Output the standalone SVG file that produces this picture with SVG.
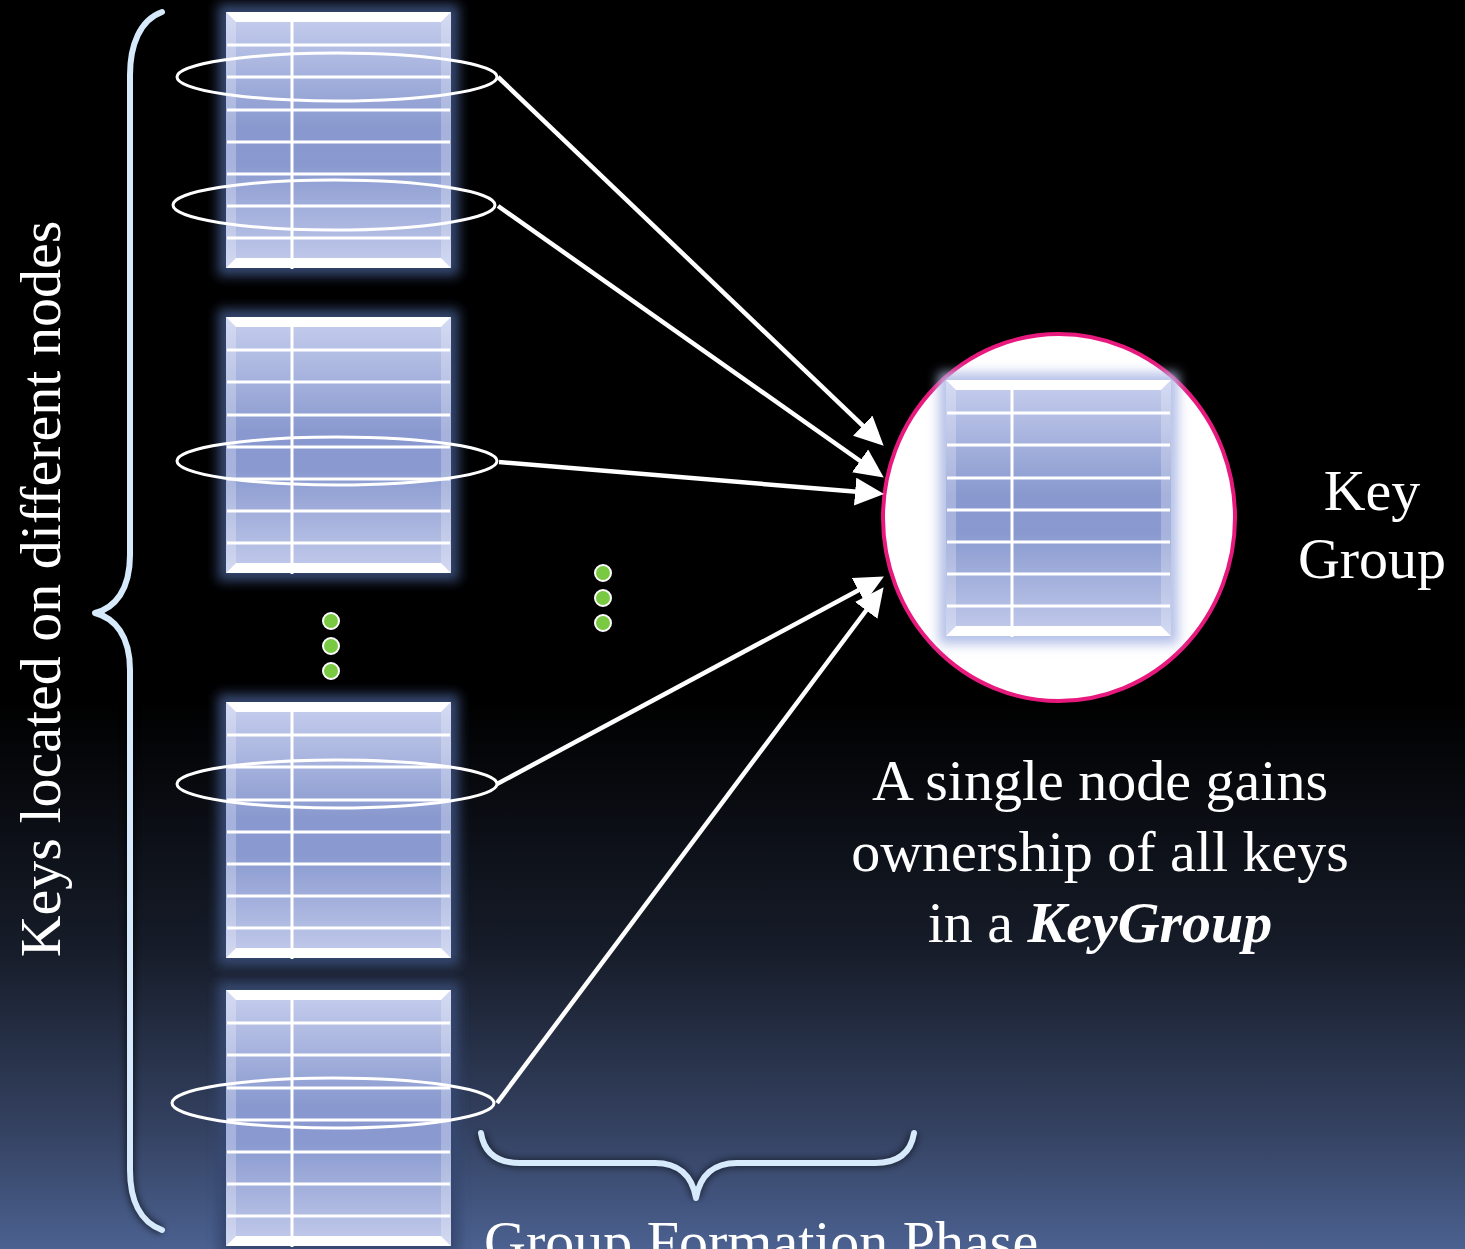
<svg xmlns="http://www.w3.org/2000/svg" xmlns:xlink="http://www.w3.org/1999/xlink" width="1465" height="1249" viewBox="0 0 1465 1249">
<defs>
<linearGradient id="bg" x1="0" y1="0" x2="0" y2="1249" gradientUnits="userSpaceOnUse">
<stop offset="0" stop-color="#000000"/>
<stop offset="0.56" stop-color="#000000"/>
<stop offset="0.76" stop-color="#161c29"/>
<stop offset="0.9" stop-color="#33405f"/>
<stop offset="1" stop-color="#4b6190"/>
</linearGradient>
<linearGradient id="tfill" x1="0" y1="0" x2="0" y2="1">
<stop offset="0" stop-color="#c7cfee"/>
<stop offset="0.45" stop-color="#8999cf"/>
<stop offset="0.6" stop-color="#8a9ad0"/>
<stop offset="1" stop-color="#c4ccec"/>
</linearGradient>
<filter id="glow" x="-20%" y="-20%" width="140%" height="140%">
<feGaussianBlur stdDeviation="6"/>
</filter>
<filter id="shadow" x="-10%" y="-10%" width="120%" height="120%">
<feGaussianBlur stdDeviation="3"/>
</filter>
<marker id="ah" markerUnits="userSpaceOnUse" markerWidth="32" markerHeight="30" refX="8" refY="14" orient="auto">
<path d="M0,0 L29,14 L0,28 z" fill="#ffffff"/>
</marker>
<g id="table">
<rect x="0" y="0" width="225" height="256" fill="url(#tfill)"/>
<polygon points="0,0 10,10 10,246 0,256" fill="#ffffff" opacity="0.25"/>
<polygon points="225,0 215,10 215,246 225,256" fill="#ffffff" opacity="0.25"/>
<polygon points="0,0 225,0 215,10 10,10" fill="#ffffff"/>
<polygon points="0,256 225,256 215,246 10,246" fill="#ffffff"/>
<g stroke="#ffffff" stroke-width="3">
<line x1="1" y1="33" x2="224" y2="33"/>
<line x1="1" y1="65" x2="224" y2="65"/>
<line x1="1" y1="98" x2="224" y2="98"/>
<line x1="1" y1="130" x2="224" y2="130"/>
<line x1="1" y1="162" x2="224" y2="162"/>
<line x1="1" y1="194" x2="224" y2="194"/>
<line x1="1" y1="226" x2="224" y2="226"/>
<line x1="66" y1="9" x2="66" y2="257"/>
</g>
</g>
</defs>
<style>
.txt{font-family:"Liberation Serif","Times New Roman",serif;font-size:58px;fill:#ffffff}
.ell{fill:none;stroke:#ffffff;stroke-width:3}
.conn{stroke:#ffffff;stroke-width:4.5;fill:none;marker-end:url(#ah)}
.brace{fill:none;stroke:#d6eafc;stroke-width:6;stroke-linecap:round;stroke-linejoin:round}
.dot{fill:#7ac943;stroke:#ffffff;stroke-width:2}
.glow{fill:#34466f;filter:url(#glow)}
</style>
<rect x="0" y="0" width="1465" height="1249" fill="url(#bg)"/>

<g id="brace-left">
<path d="M162,12 C140,20 130,45 130,75 L130,555 C130,590 115,608 95,613 C115,618 130,636 130,670 L130,1170 C130,1200 140,1222 162,1230" fill="none" stroke="#000000" stroke-width="10" opacity="0.5" filter="url(#shadow)"/>
<path class="brace" d="M162,12 C140,20 130,45 130,75 L130,555 C130,590 115,608 95,613 C115,618 130,636 130,670 L130,1170 C130,1200 140,1222 162,1230"/>
</g>

<text class="txt" transform="translate(60,589) rotate(-90)" text-anchor="middle">Keys located on different nodes</text>

<g id="table1">
<rect class="glow" x="218" y="4" width="241" height="272"/>
<use xlink:href="#table" x="226" y="12"/>
<ellipse class="ell" cx="337" cy="77" rx="160" ry="24"/>
<ellipse class="ell" cx="334" cy="205" rx="161" ry="25"/>
</g>
<g id="table2">
<rect class="glow" x="218" y="309" width="241" height="272"/>
<use xlink:href="#table" x="226" y="317"/>
<ellipse class="ell" cx="337" cy="461" rx="160" ry="24"/>
</g>
<g id="table3">
<rect class="glow" x="218" y="694" width="241" height="272"/>
<use xlink:href="#table" x="226" y="702"/>
<ellipse class="ell" cx="337" cy="784" rx="160" ry="24"/>
</g>
<g id="table4">
<rect class="glow" x="218" y="982" width="241" height="272"/>
<use xlink:href="#table" x="226" y="990"/>
<ellipse class="ell" cx="333" cy="1103" rx="161" ry="25"/>
</g>

<g id="dots-left">
<circle class="dot" cx="331" cy="621" r="8"/>
<circle class="dot" cx="331" cy="646" r="8"/>
<circle class="dot" cx="331" cy="671" r="8"/>
</g>
<g id="dots-right">
<circle class="dot" cx="603" cy="573" r="8"/>
<circle class="dot" cx="603" cy="598" r="8"/>
<circle class="dot" cx="603" cy="623" r="8"/>
</g>

<g id="keygroup">
<ellipse cx="1059" cy="517.5" rx="176" ry="183.5" fill="#ffffff" stroke="#e8197d" stroke-width="4"/>
<rect x="939" y="373" width="239" height="271" fill="#b3bfe8" filter="url(#glow)"/>
<use xlink:href="#table" x="946" y="380"/>
</g>

<g id="connectors">
<line class="conn" x1="498" y1="77" x2="868.5" y2="431.2"/>
<line class="conn" x1="498" y1="206" x2="866.6" y2="465.5"/>
<line class="conn" x1="499" y1="462" x2="863.1" y2="492.3"/>
<line class="conn" x1="497" y1="784" x2="865.4" y2="586.5"/>
<line class="conn" x1="497" y1="1103" x2="871" y2="604"/>
</g>

<g id="brace-bottom">
<path d="M481,1133 C484,1152 496,1163 520,1163 L655,1163 C678,1163 692,1175 696,1198 C700,1175 714,1163 737,1163 L875,1163 C899,1163 911,1152 914,1133" fill="none" stroke="#000000" stroke-width="10" opacity="0.45" filter="url(#shadow)"/>
<path class="brace" d="M481,1133 C484,1152 496,1163 520,1163 L655,1163 C678,1163 692,1175 696,1198 C700,1175 714,1163 737,1163 L875,1163 C899,1163 911,1152 914,1133"/>
</g>

<text class="txt" x="1372" y="510" text-anchor="middle">Key</text>
<text class="txt" x="1372" y="578" text-anchor="middle">Group</text>

<text class="txt" x="1100" y="800" text-anchor="middle">A single node gains</text>
<text class="txt" x="1100" y="871" text-anchor="middle">ownership of all keys</text>
<text class="txt" x="1100" y="942" text-anchor="middle">in a <tspan font-weight="bold" font-style="italic">KeyGroup</tspan></text>

<text class="txt" x="484" y="1261">Group Formation Phase</text>
</svg>
